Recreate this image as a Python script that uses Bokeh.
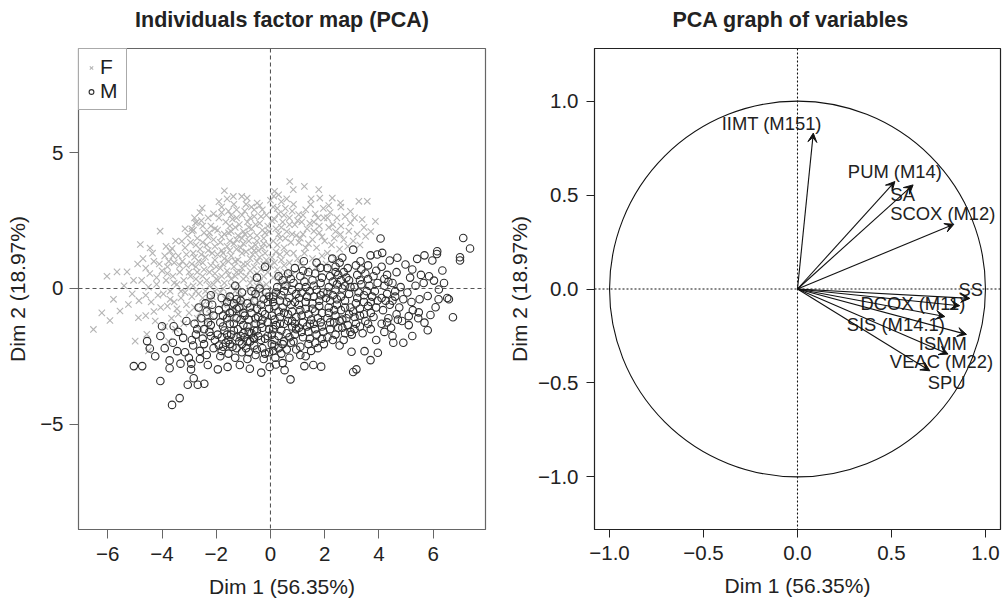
from bokeh.plotting import figure
from bokeh.layouts import row
from bokeh.models import (ColumnDataSource, FixedTicker, CustomJSTickFormatter, Span,
                          Arrow, VeeHead, Legend, LegendItem, Range1d, Title)
from bokeh.embed import file_html
from bokeh.resources import INLINE

# ---------------- data ----------------
# Individuals (F = female, M = male) on Dim 1 / Dim 2
f_pts = [
    (-6.53,-1.51),(-6.22,-0.90),(-5.92,-1.18),(-5.79,-0.40),(-5.55,-0.83),(-5.24,-0.59),(-6.03,0.45),
    (-5.66,0.61),(-5.29,0.61),(-5.40,0.10),(-5.10,-0.20),(-5.05,0.30),
    (-4.87,-1.08),(-4.99,-1.94),(-4.56,-1.69),(-4.50,-2.30),(-4.80,1.62),(-4.44,1.49),(-4.07,2.11),
    (-4.90,0.90),(-4.60,0.75),(-4.30,1.00),(-4.75,0.30),(-4.50,0.05),(-4.20,0.40),(-4.85,-0.45),
    (-4.40,-0.50),(-4.15,-0.25),(-4.60,-1.00),(-4.25,-1.20),(-4.10,0.90),(-4.35,1.30),(-4.70,1.10),
    (-4.05,-0.70),
    (-3.76,-1.94),(-3.63,1.47),(-3.70,1.37),(-3.27,1.74),(-3.90,1.20),(-3.80,0.80),(-3.55,0.95),
    (-3.40,1.20),(-3.15,1.50),(-3.85,0.30),(-3.60,0.45),(-3.35,0.60),(-3.10,0.85),(-3.95,-0.20),
    (-3.70,-0.10),(-3.45,0.15),(-3.20,0.30),(-3.05,0.05),(-3.80,-0.65),(-3.55,-0.50),(-3.30,-0.35),
    (-3.10,-0.60),(-3.65,-1.10),(-3.40,-0.95),(-3.20,-1.30),(-3.90,-1.40),(-3.50,-1.50),(-3.25,1.00),
    (-3.50,1.75),(-3.05,1.95),(-3.75,1.00),(-3.15,-0.15),
    (-2.89,2.11),(-2.52,2.96),(-2.77,2.41),(-2.84,2.15),(-2.72,2.45),(-2.90,2.20),(-2.60,2.80),
    (-2.95,1.70),(-2.70,1.85),(-2.45,2.05),(-2.20,2.30),(-2.85,1.30),(-2.60,1.45),(-2.35,1.60),
    (-2.10,1.80),(-2.90,0.90),(-2.65,1.00),(-2.40,1.15),(-2.15,1.30),(-2.95,0.45),(-2.70,0.60),
    (-2.45,0.70),(-2.20,0.85),(-2.05,0.55),(-2.85,0.10),(-2.60,0.20),(-2.35,0.30),(-2.10,0.15),
    (-2.90,-0.30),(-2.65,-0.20),(-2.40,-0.10),(-2.15,-0.30),(-2.80,-0.70),(-2.50,-0.60),(-2.25,-0.75),
    (-2.70,-1.10),(-2.35,-1.20),(-2.60,-1.50),(-2.30,2.60),(-2.10,2.75),(-2.55,2.50),(-2.05,2.20),
    (-1.70,3.60),(-1.37,3.39),(-1.06,3.39),(-1.35,3.10),(-1.80,3.00),(-1.55,2.85),(-1.25,2.90),
    (-1.05,2.70),(-1.90,2.60),(-1.65,2.45),(-1.40,2.55),(-1.15,2.35),(-1.95,2.15),(-1.70,2.00),
    (-1.45,2.10),(-1.20,1.95),(-1.00,2.10),(-1.85,1.70),(-1.60,1.55),(-1.35,1.65),(-1.10,1.50),
    (-1.95,1.25),(-1.70,1.10),(-1.45,1.20),(-1.20,1.05),(-1.05,1.30),(-1.85,0.75),(-1.60,0.65),
    (-1.35,0.80),(-1.10,0.60),(-1.95,0.30),(-1.70,0.20),(-1.45,0.35),(-1.20,0.15),(-1.85,-0.15),
    (-1.55,-0.25),(-1.30,-0.10),(-1.05,-0.30),(-1.75,-0.60),(-1.40,-0.70),(-1.15,-0.55),(-1.60,-1.00),
    (-1.25,-0.95),(-1.50,2.30),(-1.80,1.40),(-1.30,0.45),
    (-0.86,3.33),(-0.49,3.15),(-0.40,3.05),(-0.70,3.00),(-0.95,2.85),(-0.30,2.90),(-0.15,2.70),
    (-0.60,2.65),(-0.85,2.45),(-0.40,2.40),(-0.10,2.30),(-0.70,2.20),(-0.95,2.00),(-0.50,1.95),
    (-0.25,1.85),(-0.80,1.75),(-0.55,1.60),(-0.30,1.50),(-0.05,1.60),(-0.90,1.35),(-0.65,1.25),
    (-0.40,1.15),(-0.15,1.05),(-0.85,0.90),(-0.60,0.80),(-0.35,0.70),(-0.10,0.60),(-0.90,0.45),
    (-0.65,0.35),(-0.40,0.25),(-0.15,0.15),(-0.80,0.00),(-0.50,-0.15),(-0.25,-0.25),(-0.70,-0.45),
    (-0.40,-0.60),(-0.95,-0.75),(-0.60,1.40),(-0.20,2.05),(-0.75,2.60),
    (0.15,3.58),(0.12,3.40),(0.71,3.94),(0.84,3.64),(0.40,3.20),(0.10,3.00),(0.55,2.95),
    (0.85,3.10),(0.30,2.75),(0.70,2.60),(0.05,2.50),(0.45,2.45),(0.90,2.35),(0.20,2.20),
    (0.60,2.10),(0.95,1.95),(0.35,1.85),(0.10,1.75),(0.75,1.70),(0.50,1.50),(0.20,1.35),
    (0.85,1.30),(0.05,1.15),(0.40,1.05),(0.70,0.95),(0.25,0.70),(0.55,0.60),(0.10,0.40),
    (0.80,0.50),(0.35,0.20),(0.15,-0.10),(0.60,0.15),
    (1.25,3.76),(1.78,3.64),(1.82,3.33),(1.48,3.09),(1.04,2.72),(1.97,2.60),(1.60,2.11),
    (1.30,2.90),(1.65,2.75),(1.15,2.45),(1.45,2.40),(1.80,2.30),(1.20,2.00),(1.90,1.90),
    (1.05,1.70),(1.40,1.65),(1.70,1.50),(1.25,1.30),(1.55,1.10),(1.90,1.20),(1.10,0.90),
    (1.35,0.70),(1.70,0.80),(1.50,3.30),(1.95,2.95),
    (2.28,3.33),(2.58,3.15),(2.95,2.84),(2.89,2.11),(2.95,2.41),(2.58,1.99),(2.20,2.80),
    (2.45,2.60),(2.75,2.65),(2.15,2.25),(2.40,2.10),(2.70,1.80),(2.25,1.60),(2.55,1.45),
    (2.85,1.55),(2.10,1.30),(2.40,1.10),(2.05,0.90),(2.60,3.00),
    (3.26,3.21),(3.57,3.21),(3.38,2.54),(3.87,2.47),(3.51,1.92),(3.10,2.60),(3.20,2.00),
    (3.45,2.25),(3.05,1.75),(3.30,1.60),(3.70,2.10),
    # denser core
    (-4.45,0.55),(-4.20,0.15),(-4.60,-0.25),(-4.30,-0.85),(-4.00,0.65),(-3.85,1.55),(-3.60,1.20),
    (-3.35,0.85),(-3.10,1.25),(-3.80,0.55),(-3.55,0.20),(-3.30,-0.10),(-3.00,0.60),(-3.70,-0.40),
    (-3.45,-0.75),(-3.00,-0.90),(-3.15,2.20),(-2.80,2.60),(-2.50,2.30),(-2.25,2.05),(-2.75,1.60),
    (-2.50,1.70),(-2.30,1.90),(-2.05,1.55),(-2.80,1.15),(-2.55,1.25),(-2.30,1.40),(-2.05,1.05),
    (-2.75,0.80),(-2.50,0.95),(-2.25,0.60),(-2.00,0.80),(-2.75,0.35),(-2.50,0.45),(-2.25,0.10),
    (-2.00,0.35),(-2.75,-0.10),(-2.50,-0.35),(-2.25,-0.45),(-2.05,-0.10),(-2.60,-0.90),(-2.20,-1.00),
    (-1.90,3.20),(-1.60,3.30),(-1.45,2.70),(-1.80,2.80),(-1.25,2.60),(-1.55,2.05),(-1.30,2.25),
    (-1.05,1.85),(-1.80,1.90),(-1.50,1.75),(-1.25,1.80),(-1.00,1.65),(-1.75,1.30),(-1.50,1.40),
    (-1.25,1.45),(-1.00,0.90),(-1.75,0.90),(-1.55,1.00),(-1.30,1.00),(-1.05,0.75),(-1.80,0.45),
    (-1.55,0.50),(-1.25,0.60),(-1.00,0.35),(-1.75,0.00),(-1.45,0.10),(-1.15,-0.10),(-1.65,-0.40),
    (-1.30,-0.45),(-1.00,-0.50),(-0.90,3.10),(-0.60,2.90),(-0.35,2.65),(-0.80,2.25),(-0.55,2.35),
    (-0.30,2.15),(-0.05,2.10),(-0.75,1.95),(-0.50,1.75),(-0.25,1.65),(-0.70,1.50),(-0.45,1.40),
    (-0.20,1.30),(-0.75,1.10),(-0.50,1.00),(-0.25,0.90),(0.00,0.85),(-0.75,0.65),(-0.50,0.55),
    (-0.25,0.45),(-0.75,0.20),(-0.50,0.10),(-0.30,0.05),(-0.60,-0.30),(0.00,3.25),(0.30,3.45),
    (0.60,3.30),(0.25,2.95),(0.50,2.70),(0.80,2.85),(0.15,2.55),(0.40,2.25),(0.70,2.35),
    (0.30,2.00),(0.55,1.85),(0.80,2.00),(0.25,1.60),(0.60,1.30),(0.35,1.25),(0.15,0.95),
    (0.50,0.85),(0.30,0.50),(1.00,2.50),(1.20,2.70),(1.35,2.20),(1.60,2.45),(1.10,1.85),
    (1.30,1.50),(1.55,1.80),(1.00,1.10),(1.80,2.05),(1.75,2.60),(2.10,2.60),(2.30,2.35),
    (2.00,1.75),(2.35,1.85),(2.60,2.30),(2.15,3.05),
]
m_pts = [
    (-5.04,-2.86),(-4.73,-2.86),(-4.55,-1.94),(-4.45,-2.21),(-4.06,-1.75),(-4.00,-1.39),(-4.06,-3.41),
    (-4.25,-2.50),
    (-3.63,-4.29),(-3.35,-4.04),(-3.72,-2.94),(-3.72,-2.65),(-3.32,-2.77),(-3.57,-1.39),(-3.22,-1.82),
    (-3.44,-2.31),(-3.05,-3.55),(-3.90,-2.20),(-3.15,-2.35),(-3.40,-1.60),(-3.10,-1.20),(-3.60,-2.00),
    (-2.83,-3.31),(-2.68,-3.55),(-2.44,-3.51),(-2.93,-2.98),(-2.92,-2.77),(-3.01,-2.55),(-2.31,-2.82),
    (-2.85,-2.10),(-2.60,-2.30),(-2.35,-2.45),(-2.10,-2.20),(-2.75,-1.70),(-2.50,-1.85),(-2.25,-1.60),
    (-2.05,-1.90),(-2.80,-1.30),(-2.55,-1.10),(-2.30,-1.25),(-2.10,-1.00),(-2.65,-0.70),(-2.40,-0.55),
    (-2.15,-0.60),(-2.20,-0.25),(-2.60,-2.60),(-2.90,-1.90),
    (-1.94,-2.98),(-1.58,-2.89),(-1.13,-2.82),(-1.85,-2.50),(-1.55,-2.40),(-1.30,-2.55),(-1.05,-2.35),
    (-1.90,-2.10),(-1.65,-2.00),(-1.40,-2.15),(-1.15,-1.95),(-1.95,-1.70),(-1.70,-1.55),(-1.45,-1.70),
    (-1.20,-1.50),(-1.00,-1.65),(-1.85,-1.25),(-1.60,-1.10),(-1.35,-1.30),(-1.10,-1.15),(-1.90,-0.80),
    (-1.65,-0.70),(-1.40,-0.85),(-1.15,-0.70),(-1.80,-0.35),(-1.50,-0.30),(-1.25,-0.40),(-1.05,-0.15),
    (-1.55,-1.90),(-1.25,-1.80),(-1.80,-2.30),(-1.30,0.10),
    (-0.76,-2.96),(-0.34,-3.10),(-0.03,-2.89),(-0.63,-1.82),(-0.85,-2.60),(-0.55,-2.45),(-0.25,-2.60),
    (-0.90,-2.20),(-0.60,-2.10),(-0.30,-2.20),(-0.05,-2.35),(-0.95,-1.80),(-0.70,-1.65),(-0.45,-1.75),
    (-0.20,-1.85),(-0.85,-1.40),(-0.55,-1.30),(-0.30,-1.45),(-0.05,-1.50),(-0.95,-1.00),(-0.70,-0.90),
    (-0.45,-1.05),(-0.20,-0.95),(-0.85,-0.55),(-0.60,-0.45),(-0.35,-0.60),(-0.10,-0.50),(-0.70,-0.10),
    (-0.40,0.00),(-0.15,-0.15),(-0.50,0.40),(-0.20,0.80),(-0.75,-1.95),(-0.50,-1.55),(-0.30,-1.15),
    (0.20,-2.80),(0.52,-3.01),(0.74,-3.35),(0.45,-2.75),(0.18,-2.55),(0.10,-2.30),(0.40,-2.40),
    (0.70,-2.55),(0.95,-2.25),(0.15,-2.10),(0.45,-2.05),(0.75,-2.00),(0.05,-1.70),(0.30,-1.75),
    (0.60,-1.65),(0.90,-1.70),(0.20,-1.35),(0.50,-1.30),(0.80,-1.40),(0.05,-1.00),(0.35,-1.05),
    (0.65,-0.95),(0.95,-1.05),(0.15,-0.65),(0.45,-0.70),(0.75,-0.60),(0.10,-0.30),(0.40,-0.25),
    (0.70,-0.35),(0.95,-0.20),(0.25,0.05),(0.55,0.10),(0.85,0.20),(0.30,0.45),(0.65,0.55),
    (0.90,0.75),(0.50,-1.95),(0.80,-1.20),
    (1.25,-2.86),(1.58,-2.82),(1.87,-2.88),(1.30,-2.50),(1.50,-2.30),(1.97,-2.05),(1.10,-2.15),
    (1.75,-2.20),(1.20,-1.80),(1.45,-1.85),(1.70,-1.70),(1.95,-1.60),(1.05,-1.45),(1.35,-1.40),
    (1.60,-1.30),(1.85,-1.25),(1.15,-1.00),(1.40,-0.95),(1.65,-0.85),(1.90,-0.90),(1.05,-0.60),
    (1.30,-0.50),(1.55,-0.55),(1.80,-0.45),(1.15,-0.15),(1.45,-0.10),(1.70,-0.05),(1.95,-0.15),
    (1.25,0.25),(1.55,0.30),(1.85,0.20),(1.23,1.00),(1.85,0.76),(1.40,0.60),(1.65,0.55),
    (1.10,0.45),(1.50,-1.15),
    (2.30,-1.90),(2.70,-1.90),(2.75,-1.65),(2.99,-2.33),(2.20,-1.50),(2.50,-1.45),(2.85,-1.35),
    (2.10,-1.10),(2.40,-1.00),(2.65,-1.15),(2.90,-0.95),(2.15,-0.70),(2.45,-0.60),(2.75,-0.70),
    (2.05,-0.35),(2.30,-0.25),(2.60,-0.30),(2.90,-0.20),(2.15,0.05),(2.45,0.15),(2.75,0.10),
    (2.20,0.45),(2.50,0.50),(2.80,0.40),(2.28,1.10),(2.65,1.13),(2.40,0.80),(2.85,0.75),
    (2.10,0.75),(2.55,-2.10),(2.35,-1.25),
    (3.05,-3.08),(3.17,-2.98),(3.69,-2.64),(3.96,-2.37),(3.47,-2.31),(3.00,-1.70),(3.40,-1.65),
    (3.70,-1.50),(3.90,-1.90),(3.15,-1.30),(3.50,-1.20),(3.80,-1.05),(3.05,-0.85),(3.30,-0.75),
    (3.60,-0.65),(3.90,-0.70),(3.20,-0.35),(3.45,-0.25),(3.75,-0.30),(3.10,0.05),(3.35,0.15),
    (3.65,0.10),(3.95,0.20),(3.20,0.50),(3.50,0.55),(3.80,0.45),(3.05,1.43),(3.32,1.00),
    (3.15,0.85),(3.69,1.22),(3.94,1.25),(3.60,0.85),(3.30,-1.00),
    (4.06,1.84),(4.12,1.31),(4.68,1.13),(4.40,1.03),(4.98,0.88),(4.53,-2.00),(4.90,-2.00),
    (4.20,-1.60),(4.50,-1.75),(4.85,-1.20),(4.10,-1.30),(4.35,-1.10),(4.65,-0.95),(4.15,-0.80),
    (4.40,-0.60),(4.75,-0.70),(4.10,-0.35),(4.30,-0.20),(4.60,-0.30),(4.90,-0.40),(4.20,0.10),
    (4.50,0.20),(4.80,0.05),(4.30,0.50),(4.65,0.60),(4.10,0.80),(4.45,-1.45),
    (5.23,-1.75),(5.80,-1.54),(5.68,-1.26),(5.90,-0.98),(5.10,-1.02),(5.47,-0.88),(5.80,-0.28),
    (5.41,1.09),(5.68,1.22),(5.97,1.03),(5.23,0.70),(5.45,-1.10),(5.10,-1.35),(5.20,-0.50),
    (5.50,-0.40),(5.05,-0.15),(5.35,0.10),(5.65,0.20),(5.15,0.40),(5.55,0.50),(5.85,0.45),
    (5.25,-0.80),
    (6.73,-1.06),(6.58,-0.40),(6.09,-0.69),(6.52,-0.35),(6.21,-0.04),(6.03,0.29),(6.34,0.66),
    (6.15,1.37),(6.14,1.27),(7.11,1.86),(7.36,1.47),(6.99,1.15),(6.99,1.03),(6.40,0.20),
    (6.20,-0.40),
    # denser core
    (-2.45,-1.50),(-2.20,-1.35),(-2.70,-1.50),(-2.45,-2.05),(-2.20,-1.75),(-2.35,-0.85),(-1.75,-2.15),
    (-1.50,-2.05),(-1.25,-2.20),(-1.05,-2.05),(-1.80,-1.80),(-1.60,-1.70),(-1.35,-1.55),(-1.10,-1.75),
    (-1.75,-1.40),(-1.50,-1.30),(-1.25,-1.10),(-1.00,-1.35),(-1.75,-1.00),(-1.50,-0.90),(-1.25,-0.75),
    (-1.00,-0.90),(-1.60,-0.50),(-1.35,-0.55),(-1.10,-0.45),(-0.80,-2.35),(-0.50,-2.25),(-0.20,-2.40),
    (-0.85,-1.95),(-0.60,-1.85),(-0.35,-1.90),(-0.10,-1.75),(-0.80,-1.60),(-0.60,-1.55),(-0.35,-1.30),
    (-0.10,-1.25),(-0.80,-1.15),(-0.55,-1.10),(-0.30,-0.85),(-0.05,-0.75),(-0.75,-0.70),(-0.50,-0.75),
    (-0.25,-0.40),(-0.05,-0.30),(-0.55,-0.20),(0.05,-2.05),(0.30,-2.20),(0.60,-2.25),(0.85,-1.95),
    (0.15,-1.90),(0.40,-1.55),(0.70,-1.80),(0.95,-1.50),(0.10,-1.50),(0.35,-1.30),(0.65,-1.20),
    (0.90,-1.30),(0.15,-1.15),(0.50,-0.90),(0.80,-0.85),(0.30,-0.85),(0.10,-0.50),(0.35,-0.45),
    (0.60,-0.50),(0.90,-0.50),(0.20,-0.15),(0.50,-0.10),(0.80,-0.05),(0.45,0.30),(0.75,0.35),
    (1.10,-2.45),(1.40,-2.05),(1.65,-2.00),(1.90,-1.85),(1.15,-1.60),(1.40,-1.60),(1.65,-1.50),
    (1.90,-1.40),(1.20,-1.25),(1.45,-1.30),(1.75,-1.10),(1.10,-0.80),(1.30,-0.75),(1.55,-0.75),
    (1.80,-0.65),(1.05,-0.35),(1.35,-0.30),(1.60,-0.30),(1.85,-0.25),(1.05,0.05),(1.30,0.05),
    (1.60,0.10),(1.90,0.40),(1.20,0.65),(1.70,0.95),(2.10,-1.80),(2.40,-1.70),(2.65,-1.45),
    (2.95,-1.60),(2.20,-1.25),(2.55,-1.20),(2.80,-1.10),(2.15,-0.90),(2.35,-0.80),(2.60,-0.80),
    (2.95,-0.70),(2.20,-0.45),(2.45,-0.40),(2.75,-0.45),(2.10,-0.15),(2.40,-0.05),(2.65,0.00),
    (2.95,0.05),(2.30,0.25),(2.60,0.30),(2.90,0.30),(2.40,0.60),(2.70,0.60),(2.55,0.95),
    (3.10,-1.50),(3.30,-1.40),(3.60,-1.30),(3.10,-1.05),(3.45,-0.95),(3.70,-0.90),(3.15,-0.55),
    (3.45,-0.50),(3.70,-0.50),(3.95,-0.45),(3.25,-0.15),(3.55,-0.10),(3.85,-0.10),(3.30,0.30),
    (3.60,0.35),(3.90,0.65),(3.35,0.70),(4.25,-0.45),(4.50,-0.45),(4.35,0.25),(4.60,-0.10),
    (4.70,-1.15),(4.30,-1.25),(4.20,0.35),
]

# Variables: correlation coordinates on Dim 1 / Dim 2
var_names = ["IIMT (M151)", "PUM (M14)", "SA", "SCOX (M12)", "SS", "DCOX (M11)",
             "SIS (M14.1)", "ISMM", "VEAC (M22)", "SPU"]
var_dim1 = [0.084, 0.518, 0.615, 0.832, 0.917, 0.863, 0.784, 0.899, 0.801, 0.704]
var_dim2 = [0.831, 0.573, 0.555, 0.345, -0.050, -0.089, -0.147, -0.242, -0.347, -0.436]
# label anchor positions (as placed in the original to avoid overlaps)
lab_dim1 = [-0.137, 0.518, 0.560, 0.773, 0.922, 0.614, 0.523, 0.773, 0.766, 0.793]
lab_dim2 = [0.880, 0.626, 0.503, 0.400, 0.000, -0.077, -0.188, -0.290, -0.388, -0.499]

x_ticks_ind = [-6, -4, -2, 0, 2, 4, 6]
y_ticks_ind = [-5, 0, 5]
ticks_var = [-1.0, -0.5, 0.0, 0.5, 1.0]

title_ind = "Individuals factor map (PCA)"
title_var = "PCA graph of variables"

FONT = "Liberation Sans"
TXT = "#222222"

def style(p, outline_color, tick_out):
    p.outline_line_color = outline_color
    p.outline_line_width = 1.2
    p.grid.visible = False
    for ax in (p.xaxis[0], p.yaxis[0]):
        ax.axis_line_color = outline_color
        ax.major_tick_line_color = outline_color
        ax.major_tick_out = tick_out
        ax.major_tick_in = 0
        ax.minor_tick_line_color = None
        ax.major_label_text_font = FONT
        ax.major_label_text_font_size = "20.5px"
        ax.major_label_text_color = TXT
        ax.axis_label_text_font = FONT
        ax.axis_label_text_font_size = "21px"
        ax.axis_label_text_font_style = "normal"
        ax.axis_label_text_color = TXT

def add_title(p, text, align="center", offset=0):
    # small blank spacer line nearest the frame, then the real title above it
    p.add_layout(Title(text="\u00a0", text_font_size="9px", standoff=0), "above")
    p.add_layout(Title(text=text, text_font=FONT, text_font_size="21.5px",
                       text_font_style="bold", text_color=TXT, align=align,
                       offset=offset), "above")

# ---------------- left: individuals ----------------
p1 = figure(width=500, height=608, output_backend="svg", toolbar_location=None,
            x_range=Range1d(-7.08, 7.93), y_range=Range1d(-8.88, 8.84),
            min_border_left=78, min_border_right=15, min_border_top=47, min_border_bottom=79)
p1.xaxis.axis_label = "Dim 1 (56.35%)"
p1.yaxis.axis_label = "Dim 2 (18.97%)"
p1.xaxis.ticker = FixedTicker(ticks=x_ticks_ind)
p1.yaxis.ticker = FixedTicker(ticks=y_ticks_ind)
fmt_int = CustomJSTickFormatter(code="return (tick < 0 ? '\u2212' : '') + Math.abs(tick).toString();")
p1.xaxis.formatter = fmt_int
p1.yaxis.formatter = fmt_int
style(p1, "#666666", 9)
p1.xaxis.major_label_standoff = 8
p1.xaxis.axis_label_standoff = 11
p1.yaxis.major_label_standoff = 6
p1.yaxis.axis_label_standoff = 8

fsrc = ColumnDataSource(dict(x=[a for a, b in f_pts], y=[b for a, b in f_pts]))
msrc = ColumnDataSource(dict(x=[a for a, b in m_pts], y=[b for a, b in m_pts]))
rf = p1.scatter("x", "y", source=fsrc, marker="x", size=9, line_color="#b4b4b4", line_width=1.1)
rm = p1.scatter("x", "y", source=msrc, marker="circle", size=7.5, fill_color=None,
                line_color="#2e2e2e", line_width=1.1)
p1.add_layout(Span(location=0, dimension="width", line_color="#555555", line_dash="4 3", line_width=1.1))
p1.add_layout(Span(location=0, dimension="height", line_color="#555555", line_dash="4 3", line_width=1.1))

leg = Legend(items=[LegendItem(label="F", renderers=[rf]), LegendItem(label="M", renderers=[rm])],
             location="top_left", margin=0, padding=6, spacing=0,
             label_height=19, glyph_height=19, glyph_width=12, label_standoff=3,
             label_text_font=FONT, label_text_font_size="21px", label_text_color=TXT,
             border_line_color="#555555", border_line_width=1.2, background_fill_alpha=1)
p1.add_layout(leg)
add_title(p1, title_ind)

# ---------------- right: variables ----------------
p2 = figure(width=505, height=608, output_backend="svg", toolbar_location=None,
            x_range=Range1d(-1.08, 1.08), y_range=Range1d(-1.282, 1.282),
            min_border_left=94, min_border_right=5, min_border_top=47, min_border_bottom=79)
p2.xaxis.axis_label = "Dim 1 (56.35%)"
p2.yaxis.axis_label = "Dim 2 (18.97%)"
p2.xaxis.ticker = FixedTicker(ticks=ticks_var)
p2.yaxis.ticker = FixedTicker(ticks=ticks_var)
fmt_dec = CustomJSTickFormatter(code="return (tick < -1e-9 ? '\u2212' : '') + Math.abs(tick).toFixed(1);")
p2.xaxis.formatter = fmt_dec
p2.yaxis.formatter = fmt_dec
style(p2, "#222222", 8)
p2.xaxis.major_label_standoff = 8
p2.xaxis.axis_label_standoff = 11
p2.yaxis.major_label_standoff = 8
p2.yaxis.axis_label_standoff = 4

p2.circle(x=[0], y=[0], radius=1, fill_color=None, line_color="#111111", line_width=1.1)
p2.add_layout(Span(location=0, dimension="width", line_color="#111111", line_dash="2 2", line_width=1.1))
p2.add_layout(Span(location=0, dimension="height", line_color="#111111", line_dash="2 2", line_width=1.1))

vsrc = ColumnDataSource(dict(x0=[0.0] * len(var_names), y0=[0.0] * len(var_names),
                             x1=var_dim1, y1=var_dim2))
p2.add_layout(Arrow(source=vsrc, x_start="x0", y_start="y0", x_end="x1", y_end="y1",
                    line_color="#111111", line_width=1.1,
                    end=VeeHead(size=9, fill_color="#111111", line_color="#111111", line_width=1)))
lsrc = ColumnDataSource(dict(x=lab_dim1, y=lab_dim2, t=var_names))
p2.text("x", "y", text="t", source=lsrc, text_align="center", text_baseline="middle",
        text_font_size="18.4px", text_color=TXT, text_font={"value": FONT})
add_title(p2, title_var, align="left", offset=78)

layout = row(p1, p2)
open("out.html", "w").write(file_html(layout, INLINE))
